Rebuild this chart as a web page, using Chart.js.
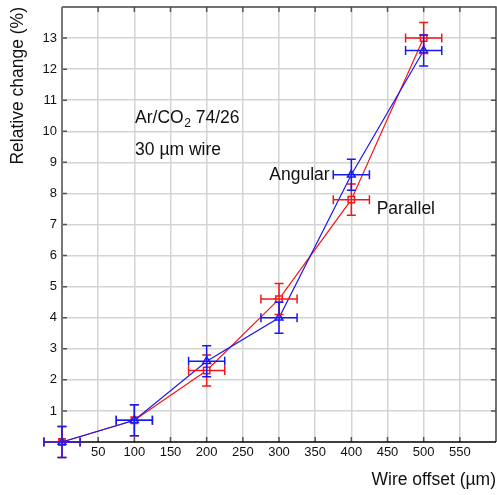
<!DOCTYPE html>
<html>
<head>
  <meta charset="UTF-8">
  <title>Relative change vs wire offset</title>
  <style type="text/css">
    html, body { margin: 0; padding: 0; background: #fff; }
    #chart-container { width: 497px; height: 495px; }
  </style>
  <script type="text/javascript" src="https://cdn.jsdelivr.net/npm/chart.js@4.4.0/dist/chart.umd.min.js"></script>
</head>
<body>
<div id="chart-container">
  <canvas id="mycanvas" width="497" height="495"></canvas>
</div>
<script>
// data
var offsets = [0, 100, 200, 300, 400, 500];
var parallel = [0, 0.7, 2.3, 4.6, 7.8, 13.0];
var angular = [0, 0.7, 2.6, 4.0, 8.6, 12.6];
var xErr = [25, 25, 25, 25, 25, 25];
var parallelErr = [0.5, 0.5, 0.5, 0.5, 0.5, 0.5];
var angularErr = [0.5, 0.5, 0.5, 0.5, 0.5, 0.5];

var FONT = "'Liberation Sans', Arial, sans-serif";

function pts(ys) {
  var out = [];
  for (var i in offsets) out.push({x: offsets[i], y: ys[i]});
  return out;
}

var errorBars = {
  id: 'errorBars',
  afterDatasetsDraw: function(chart) {
    var ctx = chart.ctx;
    var xs = chart.scales.x, ys = chart.scales.y;
    [0, 1].forEach(function(di) {
      var ds = chart.data.datasets[di];
      ctx.save();
      ctx.strokeStyle = ds.borderColor;
      ctx.lineWidth = 1.5;
      ds.data.forEach(function(p, i) {
        var px = xs.getPixelForValue(p.x), py = ys.getPixelForValue(p.y);
        var x0 = xs.getPixelForValue(p.x - ds.xErr[i]), x1 = xs.getPixelForValue(p.x + ds.xErr[i]);
        var y0 = ys.getPixelForValue(p.y - ds.yErr[i]), y1 = ys.getPixelForValue(p.y + ds.yErr[i]);
        ctx.beginPath();
        ctx.moveTo(x0, py); ctx.lineTo(x1, py);
        ctx.moveTo(x0, py - 4.5); ctx.lineTo(x0, py + 4.5);
        ctx.moveTo(x1, py - 4.5); ctx.lineTo(x1, py + 4.5);
        ctx.moveTo(px, y0); ctx.lineTo(px, y1);
        ctx.moveTo(px - 4.5, y0); ctx.lineTo(px + 4.5, y0);
        ctx.moveTo(px - 4.5, y1); ctx.lineTo(px + 4.5, y1);
        ctx.stroke();
      });
      ctx.restore();
    });
  }
};

var frame = {
  id: 'frame',
  beforeDatasetsDraw: function(chart) {
    var ctx = chart.ctx, a = chart.chartArea;
    var xs = chart.scales.x, ys = chart.scales.y;
    ctx.save();
    ctx.strokeStyle = '#555';
    ctx.lineWidth = 1.5;
    ctx.beginPath();
    xs.ticks.forEach(function(t) {
      var x = xs.getPixelForValue(t.value);
      ctx.moveTo(x, a.top); ctx.lineTo(x, a.top + 5);
      ctx.moveTo(x, a.bottom); ctx.lineTo(x, a.bottom - 5);
    });
    ys.ticks.forEach(function(t) {
      var y = ys.getPixelForValue(t.value);
      ctx.moveTo(a.left, y); ctx.lineTo(a.left + 5, y);
      ctx.moveTo(a.right, y); ctx.lineTo(a.right - 5, y);
    });
    ctx.stroke();
    // box
    ctx.strokeStyle = '#444';
    ctx.lineWidth = 1.5;
    ctx.beginPath();
    ctx.moveTo(a.left, a.top); ctx.lineTo(a.right, a.top); ctx.lineTo(a.right, a.bottom);
    ctx.stroke();
    ctx.strokeStyle = '#777';
    ctx.lineWidth = 2;
    ctx.beginPath();
    ctx.moveTo(a.left, a.top); ctx.lineTo(a.left, a.bottom);
    ctx.stroke();
    ctx.strokeStyle = '#000';
    ctx.lineWidth = 1.5;
    ctx.beginPath();
    ctx.moveTo(a.left, a.bottom); ctx.lineTo(a.right, a.bottom);
    ctx.stroke();
    ctx.restore();
  }
};

var notes = {
  id: 'notes',
  afterDraw: function(chart) {
    var ctx = chart.ctx;
    var xs = chart.scales.x, ys = chart.scales.y;
    ctx.save();
    ctx.fillStyle = '#111';
    ctx.textBaseline = 'middle';
    ctx.font = '17.5px ' + FONT;
    var x = xs.getPixelForValue(101), y = ys.getPixelForValue(10.43);
    ctx.textAlign = 'left';
    ctx.fillText('Ar/CO', x, y);
    var w = ctx.measureText('Ar/CO').width;
    ctx.font = '12px ' + FONT;
    ctx.fillText('2', x + w + 0.5, y + 6);
    var w2 = ctx.measureText('2').width;
    ctx.font = '17.5px ' + FONT;
    ctx.fillText(' 74/26', x + w + w2 + 0.5, y);
    ctx.fillText('30 \u00b5m wire', x, ys.getPixelForValue(9.4));
    ctx.textAlign = 'right';
    ctx.fillText('Angular', xs.getPixelForValue(370), ys.getPixelForValue(8.6));
    ctx.textAlign = 'left';
    ctx.fillText('Parallel', xs.getPixelForValue(435), ys.getPixelForValue(7.5));
    ctx.restore();
  }
};

var chartdata = {
  datasets: [
    {
      label: 'Parallel',
      data: pts(parallel),
      xErr: xErr,
      yErr: parallelErr,
      borderColor: '#f01818',
      backgroundColor: '#ffffff',
      borderWidth: 1.2,
      pointStyle: 'rect',
      pointRadius: 4.5,
      pointBorderWidth: 1.5,
      showLine: true,
      clip: false,
      order: 2
    },
    {
      label: 'Angular',
      data: pts(angular),
      xErr: xErr,
      yErr: angularErr,
      borderColor: '#1818f0',
      backgroundColor: '#ffffff',
      borderWidth: 1.2,
      pointStyle: 'triangle',
      pointRadius: 4.5,
      pointBorderWidth: 1.5,
      showLine: true,
      clip: false,
      order: 1
    }
  ]
};

var ctx = document.getElementById('mycanvas');
var chart = new Chart(ctx, {
  type: 'scatter',
  data: chartdata,
  plugins: [frame, errorBars, notes],
  options: {
    responsive: false,
    animation: false,
    layout: { autoPadding: false, padding: { top: 7, right: 1, left: 0, bottom: 0 } },
    plugins: { legend: { display: false }, tooltip: { enabled: false } },
    scales: {
      x: {
        type: 'linear',
        min: 0, max: 600,
        afterFit: function(s) { s.height = 53; s.paddingRight = 0; s.paddingLeft = 0; },
        ticks: {
          stepSize: 50,
          padding: 3,
          color: '#111',
          font: { family: FONT, size: 13 },
          callback: function(v) { return (v === 0 || v === 600) ? null : v; }
        },
        grid: { color: '#d4d4d4', lineWidth: 1.5, drawTicks: false },
        border: { display: false },
        title: {
          display: true,
          text: 'Wire offset (\u00b5m)',
          align: 'end',
          color: '#111',
          font: { family: FONT, size: 17.5 },
          padding: { top: 0, bottom: 4 }
        }
      },
      y: {
        type: 'linear',
        min: 0, max: 14,
        afterFit: function(s) { s.width = 62; s.paddingTop = 0; s.paddingBottom = 0; },
        ticks: {
          stepSize: 1,
          padding: 5,
          color: '#111',
          font: { family: FONT, size: 13 },
          callback: function(v) { return (v === 0 || v === 14) ? null : v; }
        },
        grid: { color: '#d4d4d4', lineWidth: 1.5, drawTicks: false },
        border: { display: false },
        title: {
          display: true,
          text: 'Relative change (%)',
          align: 'end',
          color: '#111',
          font: { family: FONT, size: 17.5 },
          padding: { top: 8, bottom: 0 }
        }
      }
    }
  }
});
</script>
</body>
</html>
